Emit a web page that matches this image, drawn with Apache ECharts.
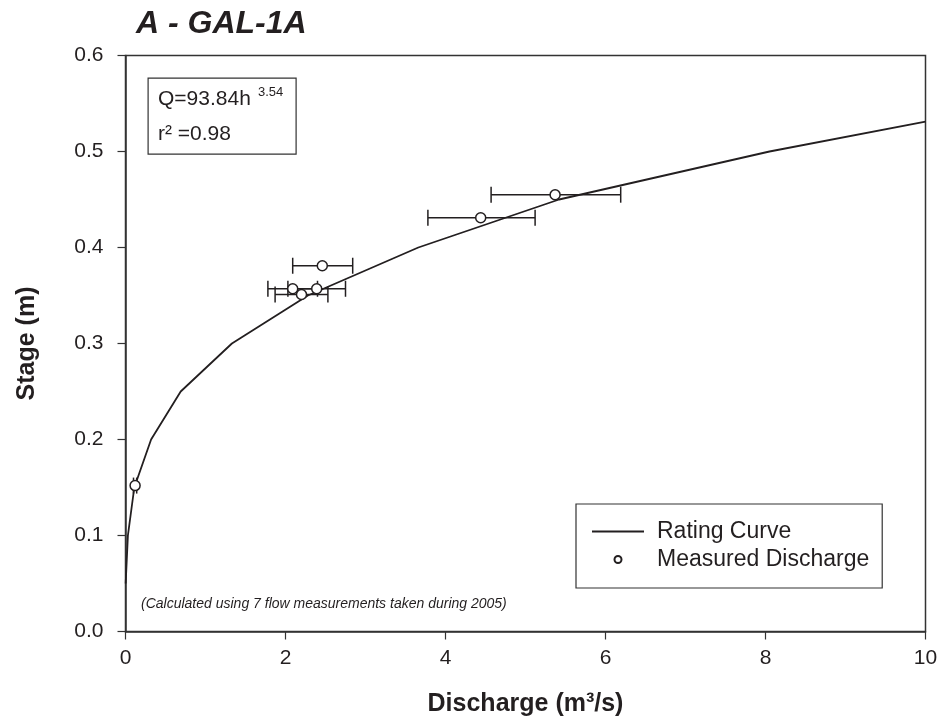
<!DOCTYPE html>
<html>
<head>
<meta charset="utf-8">
<script src="https://cdn.jsdelivr.net/npm/echarts@6/dist/echarts.min.js"></script>
<style>
html,body{margin:0;padding:0;background:#fff;}
#chart{width:942px;height:727px;}
</style>
</head>
<body>
<div id="chart"></div>
<script>
// Rating curve (discharge m3/s, stage m)
var curveQ = [0.002, 0.03, 0.11, 0.32, 0.69, 1.33, 2.28, 3.66, 5.42, 8.05, 10.0];
var curveH = [0.05, 0.10, 0.15, 0.20, 0.25, 0.30, 0.35, 0.40, 0.45, 0.50, 0.531];
// Measured discharge points with horizontal error bars
var measQ   = [0.12, 2.09, 2.20, 2.39, 2.46, 4.44, 5.37];
var measH   = [0.152, 0.357, 0.351, 0.357, 0.381, 0.431, 0.455];
var errLow  = [0.10, 1.78, 1.87, 2.03, 2.09, 3.78, 4.57];
var errHigh = [0.14, 2.40, 2.53, 2.75, 2.84, 5.12, 6.19];
// Axis ticks
var xTicks = [0, 2, 4, 6, 8, 10];
var yTicks = [0.0, 0.1, 0.2, 0.3, 0.4, 0.5, 0.6];

var FONT = '"Liberation Sans", Arial, sans-serif';
var INK = '#231f20';

var chart = echarts.init(document.getElementById('chart'), null, {renderer: 'canvas'});

var curveData = curveQ.map(function (q, i) { return [q, curveH[i]]; });
var measData = measQ.map(function (q, i) { return [q, measH[i]]; });
var errData = measQ.map(function (q, i) { return [errLow[i], measH[i], errHigh[i]]; });

var option = {
  backgroundColor: '#fff',
  animation: false,
  title: {
    text: 'A - GAL-1A',
    left: 131, top: 3,
    textStyle: {fontFamily: FONT, fontSize: 32, fontWeight: 'bold', fontStyle: 'italic', color: INK}
  },
  grid: {
    left: 125.5, right: 16.5, top: 55.5, bottom: 95.5,
    show: true, borderColor: '#333', borderWidth: 1.5, backgroundColor: 'transparent'
  },
  legend: {
    left: 576, top: 504,
    orient: 'vertical',
    padding: [16, 13, 17, 16],
    itemGap: 5,
    itemWidth: 52, itemHeight: 7,
    symbolKeepAspect: true,
    borderColor: '#333', borderWidth: 1.2,
    textStyle: {fontFamily: FONT, fontSize: 23, color: INK, lineHeight: 23, padding: [0, 0, 0, 8]},
    data: [
      {name: 'Rating Curve', icon: 'path://M0,0H52V2H0Z', itemStyle: {color: INK, borderWidth: 0}},
      {name: 'Measured Discharge', icon: 'circle'}
    ]
  },
  xAxis: {
    type: 'value', min: xTicks[0], max: xTicks[xTicks.length - 1], interval: 2,
    name: 'Discharge (m³/s)', nameLocation: 'middle', nameGap: 60,
    nameTextStyle: {fontFamily: FONT, fontSize: 25, fontWeight: 'bold', color: INK},
    axisLine: {show: true, onZero: false, lineStyle: {color: '#333', width: 1.5}},
    axisTick: {show: true, inside: false, length: 8, lineStyle: {color: '#333', width: 1.2}},
    axisLabel: {fontFamily: FONT, fontSize: 21, color: INK, margin: 16},
    splitLine: {show: false}
  },
  yAxis: {
    type: 'value', min: yTicks[0], max: yTicks[yTicks.length - 1], interval: 0.1,
    name: 'Stage (m)', nameLocation: 'middle', nameGap: 86,
    nameTextStyle: {fontFamily: FONT, fontSize: 25, fontWeight: 'bold', color: INK},
    axisLine: {show: true, onZero: false, lineStyle: {color: '#333', width: 1.5}},
    axisTick: {show: true, inside: false, length: 8, lineStyle: {color: '#333', width: 1.2}},
    axisLabel: {fontFamily: FONT, fontSize: 21, color: INK, margin: 22,
      formatter: function (v) { return v.toFixed(1); }},
    splitLine: {show: false}
  },
  graphic: [
    {
      type: 'rect', left: 147.5, top: 77.5, silent: true,
      shape: {width: 148, height: 76},
      style: {fill: '#fff', stroke: '#333', lineWidth: 1.2}
    },
    {
      type: 'text', left: 158, top: 89, silent: true,
      style: {text: 'Q=93.84h', font: '21px ' + FONT, fill: INK}
    },
    {
      type: 'text', left: 258, top: 86, silent: true,
      style: {text: '3.54', font: '13px ' + FONT, fill: INK}
    },
    {
      type: 'text', left: 158, top: 124, silent: true,
      style: {text: 'r² =0.98', font: '21px ' + FONT, fill: INK}
    },
    {
      type: 'text', left: 141, top: 597, silent: true,
      style: {text: '(Calculated using 7 flow measurements taken during 2005)', font: 'italic 14px ' + FONT, fill: INK}
    }
  ],
  series: [
    {
      name: 'Rating Curve', type: 'line', data: curveData,
      symbol: 'none', smooth: false,
      lineStyle: {color: INK, width: 1.8},
      itemStyle: {color: INK},
      z: 2
    },
    {
      name: 'Error', type: 'custom', data: errData,
      encode: {x: [0, 2], y: 1},
      renderItem: function (params, api) {
        var y = api.value(1);
        var p1 = api.coord([api.value(0), y]);
        var p2 = api.coord([api.value(2), y]);
        var c = 8;
        var st = {stroke: INK, lineWidth: 1.5, fill: null};
        return {
          type: 'group',
          children: [
            {type: 'line', shape: {x1: p1[0], y1: p1[1], x2: p2[0], y2: p2[1]}, style: st},
            {type: 'line', shape: {x1: p1[0], y1: p1[1] - c, x2: p1[0], y2: p1[1] + c}, style: st},
            {type: 'line', shape: {x1: p2[0], y1: p2[1] - c, x2: p2[0], y2: p2[1] + c}, style: st}
          ]
        };
      },
      z: 3
    },
    {
      name: 'Measured Discharge', type: 'scatter', data: measData,
      symbol: 'circle', symbolSize: 10,
      itemStyle: {color: '#fff', borderColor: INK, borderWidth: 1.5, opacity: 1},
      z: 4
    }
  ]
};
chart.setOption(option);
</script>
</body>
</html>
